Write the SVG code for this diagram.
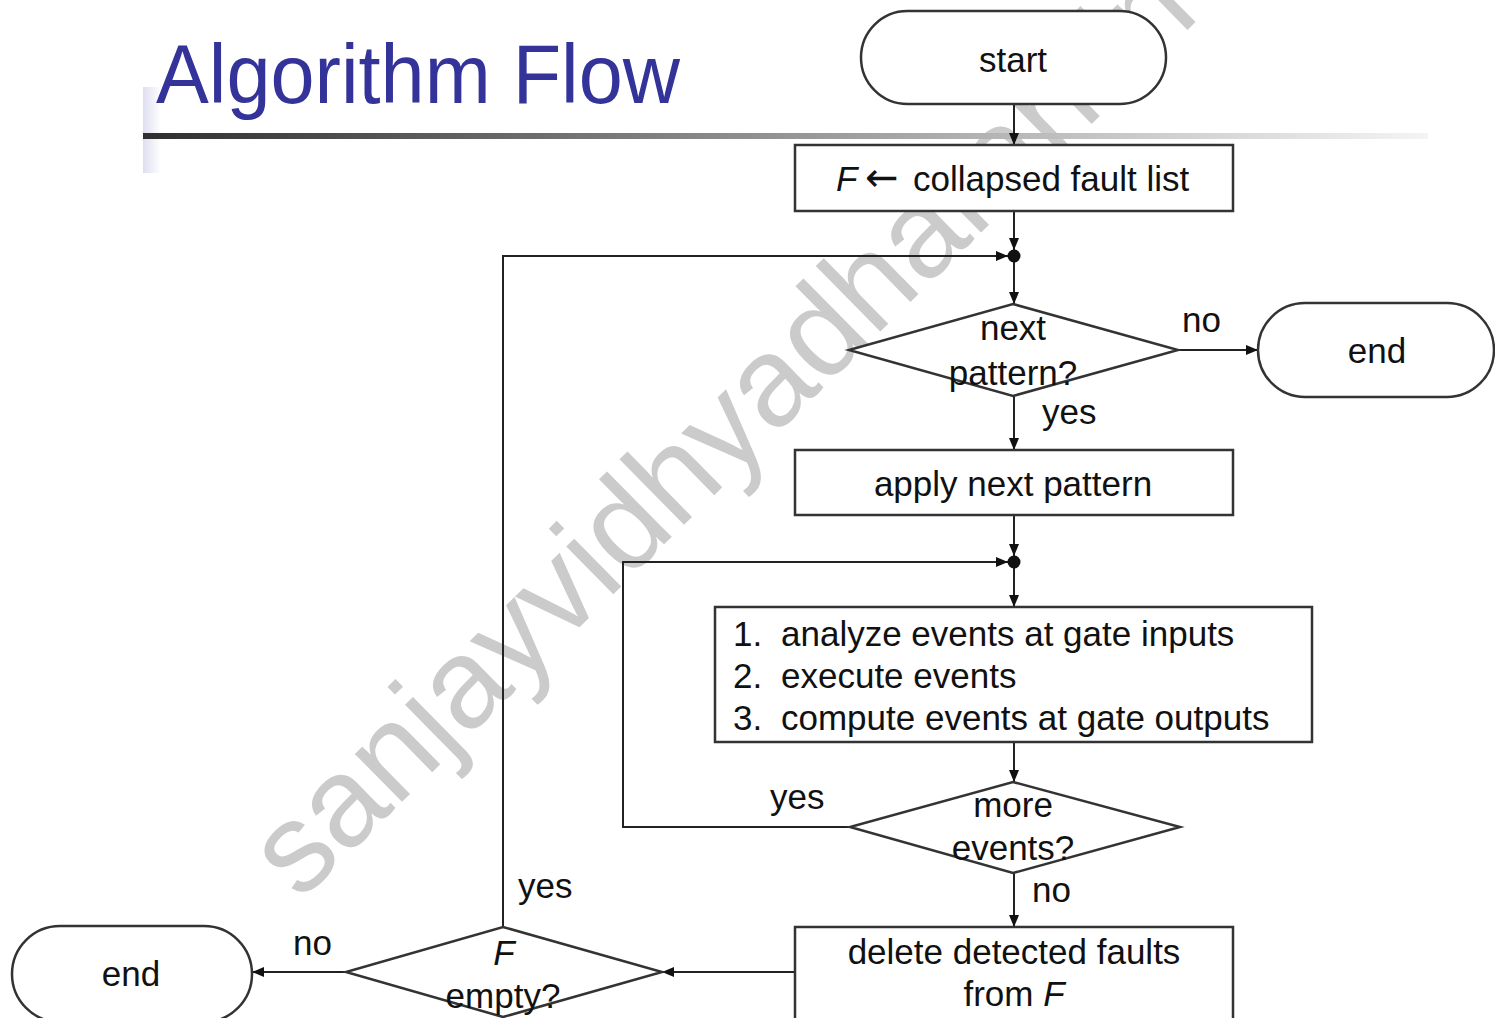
<svg xmlns="http://www.w3.org/2000/svg" width="1495" height="1018" viewBox="0 0 1495 1018">
  <defs>
    <linearGradient id="rule" x1="0" y1="0" x2="1" y2="0">
      <stop offset="0" stop-color="#2e2e2e"/>
      <stop offset="0.45" stop-color="#8a8a8a"/>
      <stop offset="0.8" stop-color="#d0d0d0"/>
      <stop offset="1" stop-color="#f4f4f4"/>
    </linearGradient>
    <linearGradient id="tab" x1="0" y1="0" x2="1" y2="0">
      <stop offset="0" stop-color="#dedef0"/>
      <stop offset="1" stop-color="#ffffff"/>
    </linearGradient>
    <marker id="arrow" markerUnits="userSpaceOnUse" markerWidth="12" markerHeight="10" refX="12" refY="5" orient="auto">
      <path d="M0,0 L12,5 L0,10 z" fill="#111"/>
    </marker>
    <style>
      .t { font-family: "Liberation Sans", Arial, sans-serif; font-size: 35px; fill: #111; }
      .c { text-anchor: middle; }
      .box { fill: #fff; stroke: #333; stroke-width: 2.5; }
      .wire { fill: none; stroke: #222; stroke-width: 2; marker-end: url(#arrow); }
      .lbl { font-family: "Liberation Sans", Arial, sans-serif; font-size: 35px; fill: #111; }
    </style>
  </defs>

  <rect width="1495" height="1018" fill="#fff"/>

  <!-- watermark -->
  <text x="300" y="902" transform="rotate(-44.5 300 902)" font-family="Liberation Sans, Arial, sans-serif" font-size="127" fill="#cbcbcb">sanjayvidhyadharan.in</text>

  <!-- slide heading -->
  <g id="heading">
    <rect x="143" y="87" width="18" height="86" fill="url(#tab)"/>
    <rect x="143" y="133" width="1285" height="6" fill="url(#rule)"/>
    <text x="156" y="103" font-family="Liberation Sans, Arial, sans-serif" font-size="84" fill="#333399" textLength="524" lengthAdjust="spacingAndGlyphs">Algorithm Flow</text>
  </g>

  <!-- connectors -->
  <g id="connectors">
    <path class="wire" d="M1014 104 V145"/>
    <path class="wire" d="M1014 211 V250"/>
    <path class="wire" d="M1014 256 V304"/>
    <path class="wire" d="M503 927 V256 H1008"/>
    <path class="wire" d="M1178 350 H1258"/>
    <path class="wire" d="M1014 396 V450"/>
    <path class="wire" d="M1014 515 V556"/>
    <path class="wire" d="M1014 562 V607"/>
    <path class="wire" d="M850 827 H623 V562 H1008"/>
    <path class="wire" d="M1014 742 V782"/>
    <path class="wire" d="M1014 873 V927"/>
    <path class="wire" d="M795 972 H662"/>
    <path class="wire" d="M346 972 H252"/>
    <circle cx="1014" cy="256" r="6.5" fill="#111"/>
    <circle cx="1014" cy="562" r="6.5" fill="#111"/>
    <text class="lbl" x="1182" y="332">no</text>
    <text class="lbl" x="1042" y="424">yes</text>
    <text class="lbl" x="770" y="809">yes</text>
    <text class="lbl" x="1032" y="902">no</text>
    <text class="lbl" x="518" y="898">yes</text>
    <text class="lbl" x="293" y="955">no</text>
  </g>

  <g id="start">
    <rect class="box" x="861" y="11" width="305" height="93" rx="46.5"/>
    <text class="t c" x="1013" y="72">start</text>
  </g>

  <g id="init-faults">
    <rect class="box" x="795" y="145" width="438" height="66"/>
    <text class="t" y="191"><tspan x="836" font-style="italic">F</tspan><tspan x="865" font-family="DejaVu Sans, sans-serif" font-size="40">←</tspan><tspan x="913">collapsed fault list</tspan></text>
  </g>

  <g id="next-pattern">
    <polygon class="box" points="1013,304 1178,350 1013,396 849,350"/>
    <text class="t c" x="1013" y="340">next</text>
    <text class="t c" x="1013" y="385">pattern?</text>
  </g>

  <g id="end-top">
    <rect class="box" x="1258" y="303" width="236" height="94" rx="47"/>
    <text class="t c" x="1377" y="363">end</text>
  </g>

  <g id="apply-pattern">
    <rect class="box" x="795" y="450" width="438" height="65"/>
    <text class="t c" x="1013" y="496">apply next pattern</text>
  </g>

  <g id="process-events">
    <rect class="box" x="715" y="607" width="597" height="135"/>
    <text class="t" y="646"><tspan x="733">1.</tspan><tspan x="781">analyze events at gate inputs</tspan></text>
    <text class="t" y="688"><tspan x="733">2.</tspan><tspan x="781">execute events</tspan></text>
    <text class="t" y="730"><tspan x="733">3.</tspan><tspan x="781">compute events at gate outputs</tspan></text>
  </g>

  <g id="more-events">
    <polygon class="box" points="1013,782 1180,827 1013,873 850,827"/>
    <text class="t c" x="1013" y="817">more</text>
    <text class="t c" x="1013" y="860">events?</text>
  </g>

  <g id="delete-faults">
    <rect class="box" x="795" y="927" width="438" height="100"/>
    <text class="t c" x="1014" y="964">delete detected faults</text>
    <text class="t c" x="1014" y="1006">from <tspan font-style="italic">F</tspan></text>
  </g>

  <g id="f-empty">
    <polygon class="box" points="503,927 662,972 503,1017 346,972"/>
    <text class="t c" x="504" y="965" font-style="italic">F</text>
    <text class="t c" x="503" y="1008">empty?</text>
  </g>

  <g id="end-bottom">
    <rect class="box" x="12" y="926" width="240" height="96" rx="48"/>
    <text class="t c" x="131" y="986">end</text>
  </g>
</svg>
